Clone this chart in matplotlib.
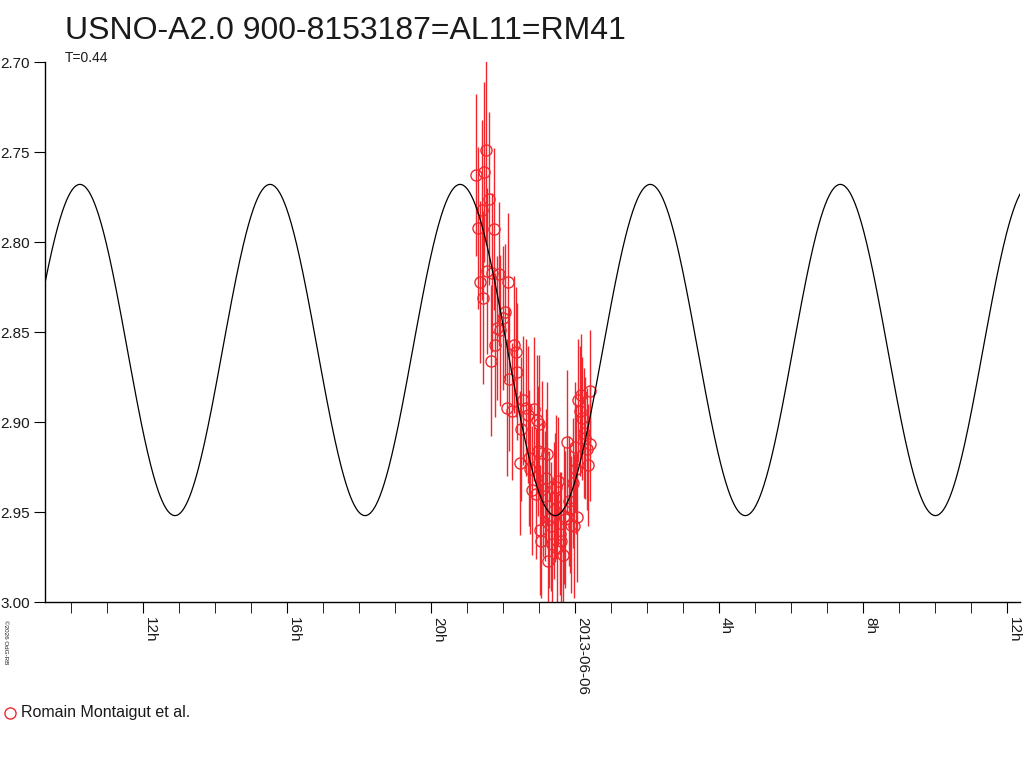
import numpy as np
import matplotlib
matplotlib.use("Agg")
import matplotlib.pyplot as plt

plt.rcParams["font.family"] = ["Liberation Sans", "DejaVu Sans"]
plt.rcParams["text.color"] = "#1a1a1a"
plt.rcParams["xtick.labelcolor"] = "#1a1a1a"
plt.rcParams["ytick.labelcolor"] = "#1a1a1a"

# time in hours from 2013-06-05 00:00 UT, magnitude, error
obs_t = [21.25, 21.47, 21.53, 21.31, 21.42, 21.61, 21.75, 21.36, 21.44, 21.56,
         21.69, 21.89, 22.14, 21.67, 21.78, 21.83, 21.92, 22.00, 22.06, 22.11,
         22.17, 22.31, 22.36, 22.39, 22.47, 22.25, 22.56, 22.64, 22.69, 22.75,
         22.81, 22.86, 22.94, 23.00, 23.08, 22.97, 23.03, 23.11, 23.17, 23.22,
         23.28, 23.36, 23.42, 23.47, 23.53, 23.61, 23.67, 23.72, 23.78, 23.83,
         23.89, 23.94, 24.00, 24.08, 24.14, 24.17, 24.25, 24.28, 24.36, 24.42,
         24.42, 24.06, 23.05, 23.19, 23.45, 23.25, 23.58, 23.33, 23.50, 23.70,
         23.86, 23.97, 24.03, 24.20, 24.33, 22.92, 22.50, 22.72]
obs_mag = [2.763, 2.761, 2.749, 2.792, 2.782, 2.776, 2.793, 2.822, 2.831, 2.816,
           2.817, 2.818, 2.822, 2.866, 2.857, 2.848, 2.849, 2.842, 2.839, 2.892,
           2.876, 2.857, 2.861, 2.872, 2.923, 2.894, 2.888, 2.892, 2.896, 2.926,
           2.938, 2.893, 2.899, 2.901, 2.917, 2.916, 2.960, 2.937, 2.941, 2.918,
           2.954, 2.968, 2.949, 2.936, 2.933, 2.966, 2.974, 2.954, 2.911, 2.944,
           2.957, 2.934, 2.914, 2.888, 2.894, 2.885, 2.906, 2.909, 2.924, 2.912,
           2.883, 2.953, 2.966, 2.931, 2.942, 2.977, 2.962, 2.958, 2.970, 2.952,
           2.948, 2.958, 2.926, 2.898, 2.915, 2.940, 2.904, 2.920]
obs_err = [0.045, 0.050, 0.052, 0.045, 0.050, 0.048, 0.045, 0.045, 0.048, 0.046,
           0.044, 0.040, 0.038, 0.042, 0.040, 0.040, 0.042, 0.040, 0.038, 0.038,
           0.040, 0.038, 0.036, 0.038, 0.040, 0.038, 0.036, 0.038, 0.038, 0.036,
           0.036, 0.040, 0.036, 0.038, 0.040, 0.036, 0.036, 0.038, 0.036, 0.040,
           0.038, 0.036, 0.038, 0.040, 0.036, 0.038, 0.026, 0.038, 0.040, 0.036,
           0.038, 0.036, 0.036, 0.034, 0.036, 0.034, 0.036, 0.034, 0.034, 0.032,
           0.034, 0.036, 0.032, 0.038, 0.036, 0.024, 0.034, 0.036, 0.030, 0.038,
           0.036, 0.040, 0.036, 0.034, 0.034, 0.036, 0.040, 0.038]

# fitted model: period T = 0.44 d, double wave
period_h = 0.44 * 24
mean_mag = 2.860
amp = 0.092
t_min = 12.89

tick_pos = [12, 16, 20, 24, 28, 32, 36]
tick_lab = ["12h", "16h", "20h", "2013-06-06", "4h", "8h", "12h"]
ytick_pos = [2.70, 2.75, 2.80, 2.85, 2.90, 2.95, 3.00]

red = "#f0282d"

fig = plt.figure(figsize=(10.24, 7.68), dpi=100)
ax = fig.add_axes([45 / 1024, 166 / 768, 975 / 1024, 540 / 768])

t = np.linspace(9.28, 36.36, 2000)
model = mean_mag + amp * np.cos(4 * np.pi * (t - t_min) / period_h)
ax.plot(t, model, color="black", linewidth=0.9, zorder=3)

ax.errorbar(obs_t, obs_mag, yerr=obs_err, fmt="o", color=red,
            ecolor=red, elinewidth=1.0, mfc="none", mec=red, ms=8,
            mew=1.0, capsize=0, zorder=2)

ax.set_xlim(9.28, 36.36)
ax.set_ylim(3.00, 2.70)

for s in ["top", "right"]:
    ax.spines[s].set_visible(False)
for s in ["left", "bottom"]:
    ax.spines[s].set_linewidth(1.0)

ax.set_xticks(tick_pos)
ax.set_xticklabels(tick_lab, rotation=-90, ha="left", va="top")
ax.set_xticks(np.arange(10, 37, 1), minor=True)
ax.tick_params(axis="x", which="both", direction="out", length=8,
               labelsize=11, pad=3)
ax.set_yticks(ytick_pos)
ax.set_yticklabels([f"{v:.2f}" for v in ytick_pos])
ax.tick_params(axis="y", direction="out", length=8, labelsize=11, pad=3)

fig.text(65 / 1024, 1 - 31 / 768, "USNO-A2.0 900-8153187=AL11=RM41",
         fontsize=23, va="center", ha="left")
fig.text(65 / 1024, 1 - 58 / 768, "T=0.44", fontsize=10, va="center", ha="left")
fig.text(5 / 1024, 1 - 642 / 768, "\u00a92026 OdG-RB", fontsize=4.5,
         rotation=-90, va="center", ha="center")

fig.lines.append(plt.Line2D([10 / 1024], [1 - 713 / 768], marker="o",
                            mfc="none", mec=red, ms=8, mew=1.0,
                            transform=fig.transFigure))
fig.text(21 / 1024, 1 - 713 / 768, "Romain Montaigut et al.", fontsize=11.5,
         va="center", ha="left")

fig.savefig("out.png", dpi=100)
